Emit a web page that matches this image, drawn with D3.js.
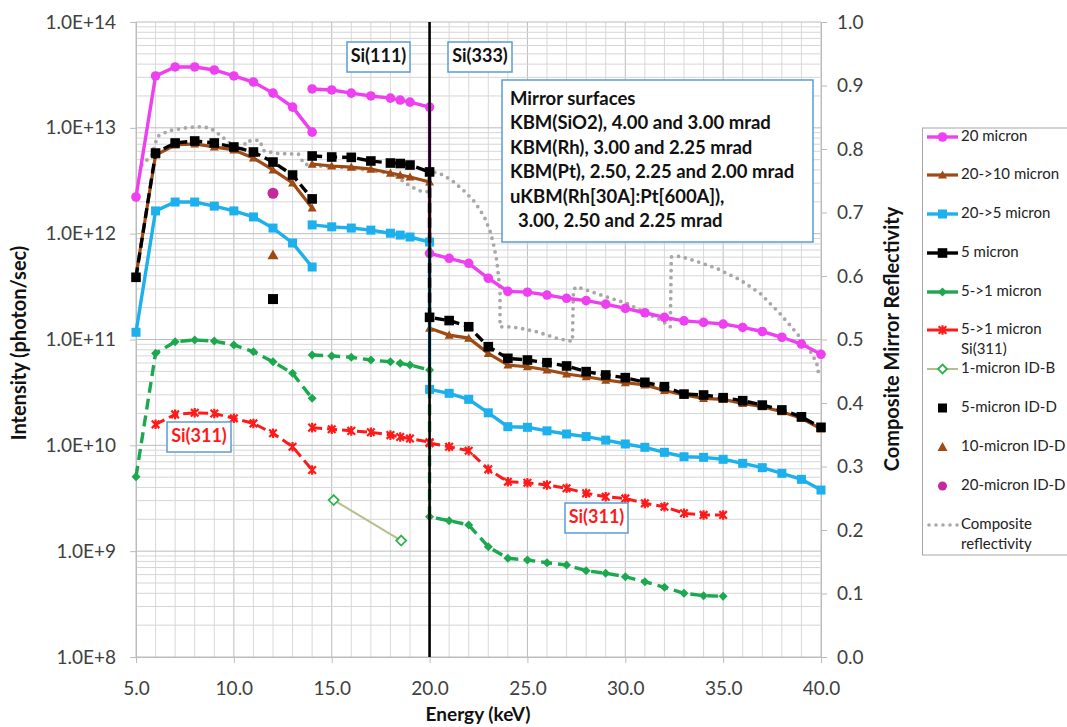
<!DOCTYPE html>
<html>
<head>
<meta charset="utf-8">
<script src="https://cdn.jsdelivr.net/npm/d3@7"></script>
<style>
body { margin: 0; background: #fff; }
text { font-family: Lato, "Open Sans", sans-serif; }
</style>
</head>
<body>
<svg id="chart" width="1067" height="727"></svg>
<script>
// energies (keV); null separates the 5-14 keV run from the 14-40 keV run
const energy = [5,6,7,8,9,10,11,12,13,14, null,
  14,15,16,17,18,18.5,19,20,
  20,21,22,23,24,25,26,27,28,29,30,31,32,33,34,35,36,37,38,39,40];

const micron20 = [2.22e12,3.09e13,3.76e13,3.76e13,3.52e13,3.09e13,2.71e13,2.13e13,1.57e13,9.1e12, null,
  2.33e13,2.28e13,2.13e13,2.0e13,1.91e13,1.83e13,1.75e13,1.57e13,
  6.52e11,5.85e11,5.25e11,3.79e11,2.85e11,2.8e11,2.63e11,2.45e11,2.33e11,2.16e11,1.97e11,1.79e11,1.62e11,1.5e11,1.45e11,1.4e11,1.3e11,1.19e11,1.05e11,9.06e10,7.25e10];
const micron20to10 = [4.0e11,5.54e12,6.88e12,7.04e12,6.6e12,6.18e12,5.19e12,4.0e12,3.01e12,1.75e12, null,
  4.55e12,4.36e12,4.26e12,4.08e12,3.74e12,3.58e12,3.43e12,3.08e12,
  1.28e11,1.10e11,1.03e11,7.4e10,5.74e10,5.53e10,5.15e10,4.72e10,4.45e10,4.14e10,3.91e10,3.72e10,3.3e10,2.99e10,2.78e10,2.72e10,2.49e10,2.32e10,2.08e10,1.80e10,1.43e10];
const micron20to5 = [1.17e11,1.64e12,1.99e12,1.99e12,1.82e12,1.64e12,1.44e12,1.13e12,8.16e11,4.84e11, null,
  1.21e12,1.16e12,1.13e12,1.08e12,1.01e12,9.7e11,9.3e11,8.34e11,
  3.38e10,3.10e10,2.72e10,2.03e10,1.5e10,1.48e10,1.37e10,1.28e10,1.21e10,1.12e10,1.03e10,9.58e9,8.59e9,7.8e9,7.7e9,7.38e9,6.76e9,6.15e9,5.44e9,4.77e9,3.78e9];
const micron5 = [3.87e11,5.78e12,7.19e12,7.51e12,7.19e12,6.59e12,5.91e12,4.75e12,3.58e12,2.13e12, null,
  5.42e12,5.3e12,5.26e12,4.86e12,4.65e12,4.6e12,4.45e12,3.83e12,
  1.62e11,1.51e11,1.32e11,8.55e10,6.64e10,6.4e10,6.04e10,5.62e10,4.97e10,4.62e10,4.36e10,3.94e10,3.58e10,3.05e10,2.99e10,2.82e10,2.64e10,2.4e10,2.16e10,1.86e10,1.48e10];
const micron5to1 = [5.05e9,7.4e10,9.53e10,9.89e10,9.67e10,8.87e10,7.67e10,6.17e10,4.79e10,2.78e10, null,
  7.13e10,7.0e10,6.79e10,6.4e10,6.16e10,5.95e10,5.74e10,5.15e10,
  2.11e9,1.94e9,1.77e9,1.10e9,8.56e8,8.25e8,7.78e8,7.4e8,6.53e8,6.18e8,5.74e8,5.14e8,4.55e8,4.0e8,3.8e8,3.75e8,null,null,null,null,null];
const micron5to1Si311 = [null,1.58e10,1.96e10,2.03e10,2.0e10,1.8e10,1.61e10,1.30e10,9.7e9,5.85e9, null,
  1.47e10,1.42e10,1.37e10,1.33e10,1.25e10,1.20e10,1.16e10,1.07e10,
  1.05e10,9.7e9,8.89e9,5.93e9,4.53e9,4.43e9,4.22e9,3.93e9,3.52e9,3.27e9,3.15e9,2.83e9,2.63e9,2.28e9,2.2e9,2.2e9,null,null,null,null,null];

const idbEnergy = [15.1, 18.55];
const idbValues = [3.04e9, 1.26e9];
const iddEnergy = [12];
const idd5 = [2.41e11];
const idd10 = [6.3e11];
const idd20 = [2.41e12];

// composite mirror reflectivity (right axis)
const compEnergy = [5.3,5.8,6.1,6.7,7.7,8.3,8.8,9.3,9.8,10.2,10.5,10.6,11.3,11.55,12.2,13.3,13.6,14.5,15.5,16.5,17.5,18.2,18.7,19.1,19.6,19.95,
  20.0,20.7,21.2,21.8,22.3,22.8,23.1,23.26,23.43,23.6,23.6,24.1,24.6,25.5,26.5,27.3,27.35,27.5,28.0,29.05,30.07,31.1,31.8,32.3,32.35,32.8,33.65,34.67,35.86,36.88,37.9,38.76,39.4,39.78,39.9];
const compRefl = [0.775,0.79,0.82,0.829,0.834,0.835,0.833,0.822,0.809,0.803,0.80,0.812,0.814,0.797,0.793,0.792,0.776,0.773,0.771,0.768,0.764,0.760,0.748,0.740,0.733,0.733,
  0.766,0.759,0.749,0.733,0.717,0.693,0.670,0.651,0.625,0.578,0.520,0.520,0.518,0.512,0.502,0.497,0.578,0.583,0.578,0.567,0.557,0.541,0.531,0.520,0.630,0.631,0.623,0.612,0.594,0.573,0.541,0.510,0.485,0.463,0.443];

const leftTicks = [1e8,1e9,1e10,1e11,1e12,1e13,1e14];
const rightTicks = [0,0.1,0.2,0.3,0.4,0.5,0.6,0.7,0.8,0.9,1.0];
const xTicks = [5,10,15,20,25,30,35,40];

const svg = d3.select("#chart");
const pLeft = 136, pRight = 821, pTop = 22, pBottom = 657;

const x = d3.scaleLinear().domain([5, 40]).range([pLeft, pRight]);
const y = d3.scaleLog().domain([1e8, 1e14]).range([pBottom, pTop]);
const yR = d3.scaleLinear().domain([0, 1]).range([pBottom, pTop]);

// grid
const grid = svg.append("g");
d3.range(5, 41).forEach(k => {
    grid.append("line")
        .attr("x1", x(k)).attr("x2", x(k)).attr("y1", pTop).attr("y2", pBottom)
        .attr("stroke", k % 5 === 0 ? "#bcbcbc" : "#d9d9d9").attr("stroke-width", 1);
});
d3.range(8, 14).forEach(d => {
    d3.range(2, 10).forEach(m => {
        const yy = y(m * Math.pow(10, d));
        grid.append("line")
            .attr("x1", pLeft).attr("x2", pRight).attr("y1", yy).attr("y2", yy)
            .attr("stroke", "#d6d6d6").attr("stroke-width", 1);
    });
});
leftTicks.forEach(t => {
    grid.append("line")
        .attr("x1", pLeft).attr("x2", pRight).attr("y1", y(t)).attr("y2", y(t))
        .attr("stroke", "#bcbcbc").attr("stroke-width", 1);
});

// axes
function styleAxis(g) {
    g.selectAll(".domain").attr("stroke", "#bcbcbc");
    g.selectAll(".tick line").attr("stroke", "#bcbcbc");
    g.selectAll("text").style("font-size", "19px").attr("fill", "#404040")
        .style("font-family", "Lato, 'Open Sans', sans-serif");
}
svg.append("g").attr("transform", `translate(${pLeft},0)`)
    .call(d3.axisLeft(y).tickValues(leftTicks).tickSize(6).tickSizeOuter(0).tickPadding(14)
        .tickFormat(d => d.toExponential(1).toUpperCase()))
    .call(styleAxis);
svg.append("g").attr("transform", `translate(0,${pBottom})`)
    .call(d3.axisBottom(x).tickValues(xTicks).tickSize(6).tickSizeOuter(0).tickPadding(19)
        .tickFormat(d3.format(".1f")))
    .call(styleAxis);
svg.append("g").attr("transform", `translate(${pRight},0)`)
    .call(d3.axisRight(yR).tickValues(rightTicks).tickSize(6).tickSizeOuter(0).tickPadding(10)
        .tickFormat(d3.format(".1f")))
    .call(styleAxis);

// axis titles
svg.append("text").attr("transform", "translate(21,343) rotate(-90)")
    .attr("text-anchor", "middle").attr("dominant-baseline", "middle")
    .style("font-size", "20px").style("font-weight", "700").attr("fill", "#111")
    .text("Intensity (photon/sec)");
svg.append("text").attr("transform", "translate(894,339) rotate(-90)")
    .attr("text-anchor", "middle").attr("dominant-baseline", "middle")
    .style("font-size", "20px").style("font-weight", "700").attr("fill", "#111")
    .text("Composite Mirror Reflectivity");
svg.append("text").attr("x", 478).attr("y", 716)
    .attr("text-anchor", "middle").attr("dominant-baseline", "middle")
    .style("font-size", "19px").style("font-weight", "700").attr("fill", "#111")
    .text("Energy (keV)");

// markers
const markers = {
    circle: (g, c, s) => g.append("circle").attr("r", s).attr("fill", c),
    square: (g, c, s) => g.append("rect").attr("x", -s).attr("y", -s).attr("width", 2 * s).attr("height", 2 * s).attr("fill", c),
    triangle: (g, c, s) => g.append("path").attr("d", `M0,${-s}L${s},${s * 0.8}L${-s},${s * 0.8}Z`).attr("fill", c),
    diamond: (g, c, s) => g.append("path").attr("d", `M0,${-s}L${s},0L0,${s}L${-s},0Z`).attr("fill", c),
    openDiamond: (g, c, s) => g.append("path").attr("d", `M0,${-s}L${s},0L0,${s}L${-s},0Z`).attr("fill", "#fff").attr("stroke", c).attr("stroke-width", 1.8),
    star: (g, c, s) => g.append("path").attr("d", `M${-s},${-s}L${s},${s}M${-s},${s}L${s},${-s}M0,${-s - 1}L0,${s + 1}`).attr("stroke", c).attr("stroke-width", 2.2).attr("fill", "none")
};

const series = [
    {name: "20 micron", values: micron20, color: "#ee3ff0", dash: null, width: 3.4, marker: "circle", size: 4.8},
    {name: "20->10 micron", values: micron20to10, color: "#9e4a12", dash: null, width: 3.2, marker: "triangle", size: 4.5},
    {name: "20->5 micron", values: micron20to5, color: "#1cb0ec", dash: null, width: 3.4, marker: "square", size: 4.5},
    {name: "5 micron", values: micron5, color: "#000", dash: "10,5", width: 3.4, marker: "square", size: 4.8},
    {name: "5->1 micron", values: micron5to1, color: "#1ba84e", dash: "11,6", width: 3.4, marker: "diamond", size: 4.5},
    {name: "5->1 micron", values: micron5to1Si311, color: "#ff1a1a", dash: "10,5", width: 3, marker: "star", size: 3.8}
];

const plot = svg.append("g");

// composite reflectivity (dotted grey)
const compPts = compEnergy.map((e, i) => [x(e), yR(compRefl[i])]);
plot.append("path").attr("d", d3.line()(compPts))
    .attr("fill", "none").attr("stroke", "#a8a8a8").attr("stroke-width", 3.8)
    .attr("stroke-linecap", "round").attr("stroke-dasharray", "0,7");

series.forEach(s => {
    const pts = energy.map((e, i) => ({e: e, v: s.values[i]}));
    const line = d3.line()
        .defined(d => d.e != null && d.v != null)
        .x(d => x(d.e)).y(d => y(d.v));
    const p = plot.append("path").attr("d", line(pts))
        .attr("fill", "none").attr("stroke", s.color).attr("stroke-width", s.width);
    if (s.dash) p.attr("stroke-dasharray", s.dash);
    pts.filter(d => d.e != null && d.v != null).forEach(d => {
        const g = plot.append("g").attr("transform", `translate(${x(d.e)},${y(d.v)})`);
        markers[s.marker](g, s.color, s.size);
    });
});

// 1-micron ID-B
const idbPts = idbEnergy.map((e, i) => [x(e), y(idbValues[i])]);
plot.append("path").attr("d", d3.line()(idbPts)).attr("fill", "none")
    .attr("stroke", "#b3c08c").attr("stroke-width", 2);
idbPts.forEach(p => markers.openDiamond(plot.append("g").attr("transform", `translate(${p[0]},${p[1]})`), "#2eb34b", 5));

// ID-D single points
iddEnergy.forEach((e, i) => {
    markers.square(plot.append("g").attr("transform", `translate(${x(e)},${y(idd5[i])})`), "#000", 5);
    markers.triangle(plot.append("g").attr("transform", `translate(${x(e)},${y(idd10[i])})`), "#9e4a12", 5.5);
    markers.circle(plot.append("g").attr("transform", `translate(${x(e)},${y(idd20[i])})`), "#c42a9c", 5.5);
});

// monochromator switch at 20 keV
svg.append("line").attr("x1", x(20)).attr("x2", x(20)).attr("y1", pTop).attr("y2", pBottom)
    .attr("stroke", "#000").attr("stroke-width", 2.6);

// annotation boxes
function box(x0, y0, w, h) {
    svg.append("rect").attr("x", x0).attr("y", y0).attr("width", w).attr("height", h)
        .attr("fill", "#fff").attr("stroke", "#5b9bd5").attr("stroke-width", 1.5);
}
box(347, 42, 63, 30);
svg.append("text").attr("x", 378.5).attr("y", 57).attr("text-anchor", "middle").attr("dominant-baseline", "middle")
    .style("font-size", "18px").style("font-weight", "700").attr("fill", "#111").text("Si(111)");
box(448, 42, 64, 30);
svg.append("text").attr("x", 480).attr("y", 57).attr("text-anchor", "middle").attr("dominant-baseline", "middle")
    .style("font-size", "18px").style("font-weight", "700").attr("fill", "#111").text("Si(333)");

box(502, 80, 311, 162);
const mirrorLines = ["Mirror surfaces", "KBM(SiO2), 4.00 and 3.00 mrad", "KBM(Rh), 3.00 and 2.25 mrad",
    "KBM(Pt), 2.50, 2.25 and 2.00 mrad", "uKBM(Rh[30A]:Pt[600A]),", "  3.00, 2.50 and 2.25 mrad"];
mirrorLines.forEach((t, i) => {
    svg.append("text").attr("x", i === 5 ? 518 : 510).attr("y", 105 + i * 24.4)
        .style("font-size", "18.5px").style("font-weight", "700").attr("fill", "#111")
        .text(t.trim());
});

box(167, 422, 64, 30);
svg.append("text").attr("x", 199).attr("y", 437).attr("text-anchor", "middle").attr("dominant-baseline", "middle")
    .style("font-size", "18px").style("font-weight", "700").attr("fill", "#ff1a1a").text("Si(311)");
box(565, 503, 63, 30);
svg.append("text").attr("x", 596.5).attr("y", 518).attr("text-anchor", "middle").attr("dominant-baseline", "middle")
    .style("font-size", "18px").style("font-weight", "700").attr("fill", "#ff1a1a").text("Si(311)");

// legend
svg.append("rect").attr("x", 922.5).attr("y", 128).attr("width", 160).attr("height", 427)
    .attr("fill", "#fff").attr("stroke", "#a6a6a6").attr("stroke-width", 1);
const legend = [
    {label: ["20 micron"], y: 137, s: series[0]},
    {label: ["20->10 micron"], y: 175, s: series[1]},
    {label: ["20->5 micron"], y: 214, s: series[2]},
    {label: ["5 micron"], y: 253, s: series[3]},
    {label: ["5->1 micron"], y: 292, s: series[4]},
    {label: ["5->1 micron", "Si(311)"], y: 330, s: series[5]},
    {label: ["1-micron ID-B"], y: 369, s: {color: "#b3c08c", width: 2, marker: "openDiamond", mcolor: "#2eb34b", size: 4.5}},
    {label: ["5-micron ID-D"], y: 408, s: {color: null, marker: "square", mcolor: "#000", size: 4.5}},
    {label: ["10-micron ID-D"], y: 447, s: {color: null, marker: "triangle", mcolor: "#9e4a12", size: 5}},
    {label: ["20-micron ID-D"], y: 486, s: {color: null, marker: "circle", mcolor: "#c42a9c", size: 4.5}},
    {label: ["Composite", "reflectivity"], y: 525, s: {color: "#a8a8a8", width: 3.6, dots: true}}
];
legend.forEach(L => {
    const s = L.s;
    if (s.color) {
        const l = svg.append("line").attr("x1", 927).attr("x2", 958).attr("y1", L.y).attr("y2", L.y)
            .attr("stroke", s.color).attr("stroke-width", s.width);
        if (s.dots) l.attr("stroke-dasharray", "0,7").attr("stroke-linecap", "round").attr("x1", 929);
    }
    if (s.marker) {
        markers[s.marker](svg.append("g").attr("transform", `translate(942.5,${L.y})`), s.mcolor || s.color, s.size);
    }
    L.label.forEach((t, i) => {
        svg.append("text").attr("x", 961).attr("y", L.y + i * 20).attr("dominant-baseline", "middle")
            .style("font-size", "15px").attr("fill", "#222").text(t);
    });
});
</script>
</body>
</html>
